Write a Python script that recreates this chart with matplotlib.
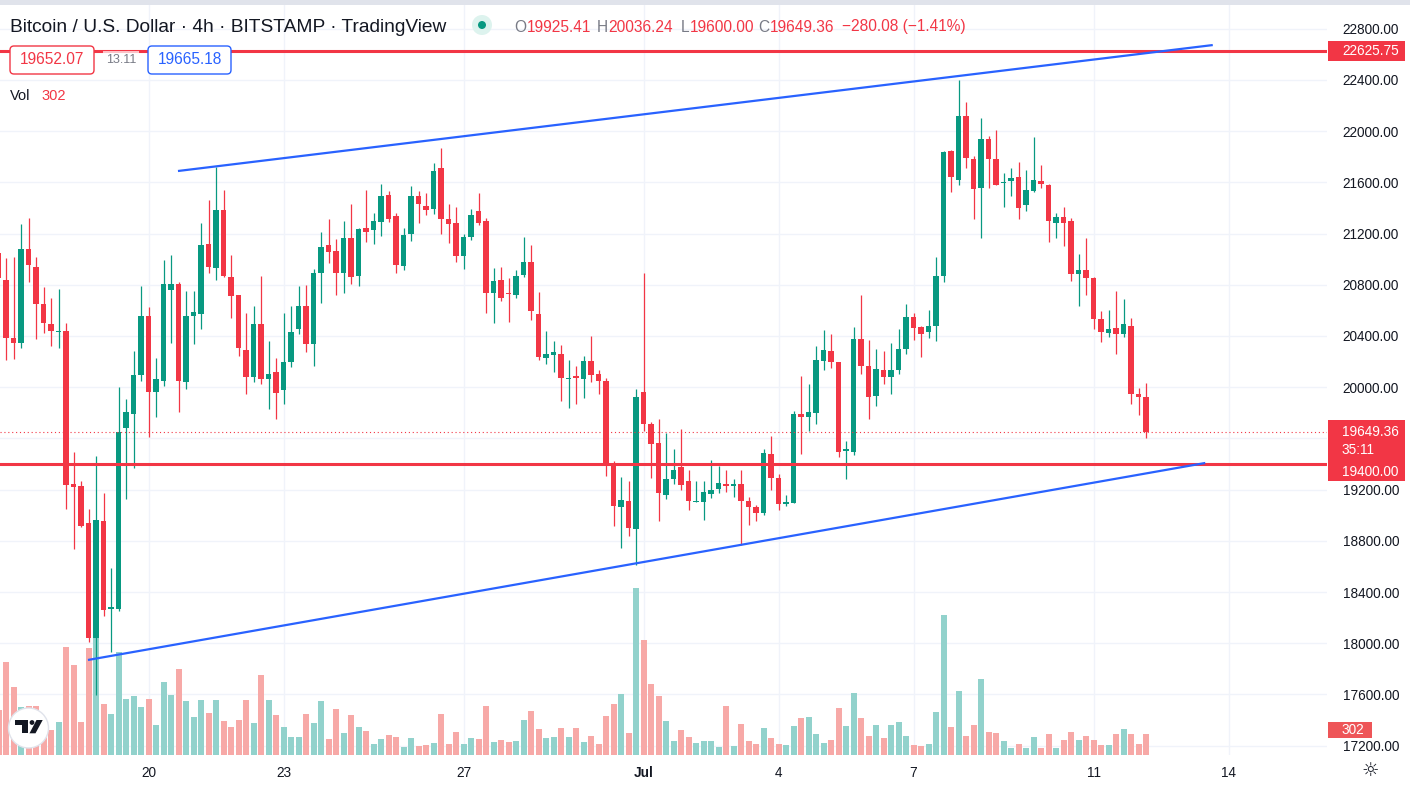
import matplotlib
matplotlib.use('Agg')
import matplotlib.pyplot as plt
import matplotlib.dates as mdates
import matplotlib.transforms as mtransforms
from matplotlib.patches import Rectangle, Circle, FancyBboxPatch, Polygon
import numpy as np
import pandas as pd

plt.rcParams['font.family'] = ['Liberation Sans', 'DejaVu Sans']

# ---------------- data (4h candles, BITSTAMP BTC/USD) ----------------
start_time = '2022-06-16 16:00'
opens = [21052, 20840, 20385, 20349, 21076, 20936, 20652, 20497, 20430, 20440,
         19240, 19230, 18937, 18037, 18952, 18270, 18264, 19682, 19788, 20097,
         20558, 19961, 20052, 20758, 20809, 20037, 20560, 20569, 21117, 20932,
         21385, 20862, 20717, 20292, 20080, 20492, 20062, 20117, 19975, 20194,
         20455, 20631, 20338, 20892, 21108, 21062, 20895, 21163, 20865, 21240,
         21231, 21292, 21500, 21338, 20947, 21197, 21491, 21416, 21391, 21713,
         21316, 21281, 21025, 21175, 21378, 21297, 20734, 20838, 20731, 20719,
         20875, 20978, 20572, 20228, 20253, 20259, 20065, 20086, 20063, 20207,
         20102, 20050, 19402, 19064, 19114, 18892, 19964, 19710, 19564, 19161,
         19279, 19375, 19266, 19104, 19104, 19166, 19205, 19240, 19232, 19247,
         19114, 19062, 19017, 19481, 19290, 19088, 19099, 19794, 19770, 19801,
         20204, 20280, 20193, 19499, 19492, 20374, 20166, 19933, 20131, 20082,
         20131, 20298, 20548, 20471, 20430, 20482, 20871, 21844, 21618, 22115,
         21785, 21556, 21941, 21785, 21594, 21608, 21643, 21427, 21531, 21608,
         21583, 21281, 21333, 21295, 20888, 20913, 20854, 20530, 20426, 20461,
         20419, 20478, 19943, 19925.41]
highs = [21180, 21006, 21015, 21273, 21324, 21015, 20785, 20700, 20764, 20500,
         19497, 19264, 19052, 19461, 19173, 18588, 20000, 19906, 20285, 20788,
         20627, 20227, 20991, 21036, 20818, 20749, 20748, 21286, 21462, 21717,
         21542, 21031, 20720, 20578, 20634, 20865, 20363, 20231, 20578, 20634,
         20794, 20800, 20923, 21209, 21317, 21157, 21302, 21431, 21240, 21538,
         21363, 21588, 21534, 21359, 21244, 21572, 21531, 21519, 21753, 21869,
         21428, 21406, 21200, 21391, 21519, 21322, 20931, 20941, 20853, 20916,
         21175, 21112, 20744, 20437, 20362, 20328, 20212, 20167, 20246, 20403,
         20136, 20071, 19422, 19297, 19266, 19984, 20894, 19728, 19749, 19645,
         19514, 19671, 19357, 19271, 19266, 19433, 19383, 19357, 19279, 19357,
         19140, 19083, 19519, 19620, 19325, 19158, 19811, 20089, 20027, 20322,
         20444, 20419, 20200, 19578, 20471, 20722, 20367, 20298, 20280, 20343,
         20454, 20652, 20576, 20478, 20600, 21020, 21844, 21851, 22400, 22226,
         21809, 22105, 21959, 22011, 21670, 21715, 21757, 21698, 21958, 21733,
         21590, 21364, 21410, 21323, 21038, 21166, 20861, 20593, 20603, 20749,
         20687, 20541, 19992, 20036.24]
lows = [20700, 20209, 20224, 20303, 20824, 20379, 20421, 20324, 20303, 19052,
        18734, 18905, 18012, 17597, 18209, 17930, 18255, 19127, 19370, 20052,
        19612, 19764, 20006, 20349, 19809, 19985, 20338, 20455, 20892, 20840,
        20862, 20538, 20246, 19948, 20040, 20025, 19831, 19748, 19871, 20154,
        20415, 20277, 20169, 20655, 20969, 20717, 20738, 20809, 20788, 21138,
        21117, 21178, 21291, 20891, 20916, 21144, 21284, 21344, 21353, 21197,
        21128, 20978, 20922, 21150, 21266, 20581, 20500, 20672, 20509, 20697,
        20859, 20522, 20212, 20181, 20119, 19891, 19837, 19872, 19914, 20037,
        19945, 19310, 18918, 18743, 18840, 18612, 19658, 19292, 18957, 19127,
        19245, 19200, 19043, 19100, 18965, 19135, 19174, 19182, 19143, 18764,
        18926, 18952, 19000, 19193, 19040, 19071, 19092, 19481, 19655, 19714,
        20134, 20152, 19457, 19283, 19471, 20107, 19752, 19856, 20027, 19943,
        20107, 20263, 20367, 20239, 20385, 20360, 20819, 21524, 21583, 21715,
        21312, 21166, 21556, 21576, 21410, 21490, 21316, 21375, 21524, 21556,
        21132, 21166, 21104, 20829, 20635, 20722, 20454, 20350, 20395, 20256,
        20395, 19870, 19783, 19600.00]
closes = [20855, 20385, 20349, 21082, 20955, 20649, 20500, 20436, 20438, 19233,
          19224, 18915, 18037, 18961, 18258, 18280, 19649, 19809, 20097, 20558,
          19961, 20061, 20809, 20809, 20052, 20558, 20590, 21108, 20938, 21385,
          20865, 20711, 20308, 20080, 20492, 20062, 20105, 19957, 20200, 20434,
          20631, 20338, 20895, 21092, 21055, 20892, 21163, 20862, 21234, 21215,
          21295, 21492, 21316, 20953, 21191, 21491, 21431, 21384, 21688, 21316,
          21275, 21025, 21175, 21347, 21284, 20734, 20831, 20697, 20725, 20869,
          20978, 20597, 20234, 20259, 20275, 20072, 20071, 20068, 20207, 20094,
          20045, 19409, 19075, 19122, 18900, 19924, 19715, 19558, 19174, 19279,
          19357, 19234, 19109, 19109, 19180, 19200, 19253, 19232, 19240, 19114,
          19062, 19017, 19483, 19290, 19088, 19106, 19794, 19770, 19804, 20211,
          20291, 20193, 19492, 19516, 20374, 20166, 19926, 20141, 20082, 20134,
          20298, 20548, 20464, 20419, 20482, 20871, 21834, 21642, 22115, 21792,
          21549, 21941, 21785, 21583, 21601, 21636, 21403, 21538, 21615, 21590,
          21295, 21333, 21281, 20888, 20916, 20854, 20530, 20430, 20454, 20412,
          20496, 19950, 19926, 19649.36]
volumes = [648, 1339, 979, 691, 706, 706, 360, 360, 475, 1555,
           1296, 475, 1541, 1685, 734, 590, 1483, 806, 850, 691,
           806, 432, 1051, 864, 1238, 778, 547, 792, 605, 792,
           490, 403, 504, 792, 461, 1152, 792, 576, 403, 259,
           259, 590, 461, 778, 230, 662, 317, 576, 403, 346,
           158, 230, 288, 259, 115, 245, 130, 144, 173, 590,
           158, 331, 158, 245, 230, 706, 187, 216, 187, 202,
           504, 634, 374, 245, 259, 389, 259, 389, 187, 274,
           158, 562, 734, 878, 317, 2405, 1656, 1022, 850, 490,
           202, 360, 259, 173, 202, 202, 115, 706, 130, 446,
           202, 158, 389, 245, 158, 144, 418, 533, 547, 302,
           173, 216, 677, 418, 893, 533, 274, 432, 245, 432,
           475, 274, 144, 130, 158, 619, 2016, 403, 922, 274,
           432, 1094, 331, 317, 202, 101, 158, 101, 259, 101,
           302, 101, 216, 331, 216, 274, 216, 144, 144, 302,
           374, 302, 158, 302]

level_prices = [22625.75, 19400.00]
last_price = 19649.36
countdown = '35:11'
bid_price, spread, ask_price = '19652.07', '13.11', '19665.18'
change_text = '\u2212280.08 (\u22121.41%)'
upper_trend_times = ['2022-06-20 15:43', '2022-07-13 15:36']
upper_trend_prices = [21689, 22673]
lower_trend_times = ['2022-06-18 15:43', '2022-07-13 11:36']
lower_trend_prices = [17869, 19408]

tick_dates = ['2022-06-20', '2022-06-23', '2022-06-27', '2022-07-01',
              '2022-07-04', '2022-07-07', '2022-07-11', '2022-07-14']
tick_labels = ['20', '23', '27', 'Jul', '4', '7', '11', '14']
price_ticks = np.arange(17200, 22801, 400)
hidden_price_labels = [19600]   # covered by the last-price label in the reference

# ---------------- style ----------------
UP = '#089981'
DOWN = '#F23645'
UP_VOL = '#92D2CC'
DOWN_VOL = '#F7A9A7'
BLUE = '#2962FF'
TXT = '#131722'
GRAY = '#787B86'
W, H = 1410, 786
PLOT_R = 1327

fig = plt.figure(figsize=(W / 100, H / 100), dpi=100)
fig.patch.set_facecolor('white')
ax = fig.add_axes([0, 31 / H, PLOT_R / W, 750 / H])
ax.set_facecolor('white')

times = pd.date_range(start_time, periods=len(opens), freq='4h')
x = mdates.date2num(times)
o = np.array(opens, float)
h = np.array(highs, float)
l = np.array(lows, float)
c = np.array(closes, float)
v = np.array(volumes, float)
up = c >= o
cols = np.where(up, UP, DOWN)
vcols = np.where(up, UP_VOL, DOWN_VOL)
step = 4 / 24

# volume (overlay in bottom of pane)
VOL_FULL = 10785.0  # volume units spanning full pane height
vol_trans = mtransforms.blended_transform_factory(ax.transData, ax.transAxes)
ax.bar(x, v / VOL_FULL, width=step * 0.8, bottom=0, color=vcols,
       transform=vol_trans, zorder=1, linewidth=0)

# candles
ax.vlines(x, l, h, colors=cols, linewidth=0.9, zorder=3)
ax.bar(x, np.maximum(np.abs(c - o), 9), bottom=np.minimum(o, c),
       width=step * 0.68, color=cols, zorder=4, linewidth=0)

# lines
for p in level_prices:
    ax.axhline(p, color=DOWN, lw=2.2, zorder=6)
ax.axhline(last_price, color=DOWN, lw=0.8, ls=(0, (1, 2.5)), zorder=5)
ax.plot(mdates.date2num(pd.to_datetime(upper_trend_times)), upper_trend_prices,
        color=BLUE, lw=1.6, zorder=7, solid_capstyle='butt')
ax.plot(mdates.date2num(pd.to_datetime(lower_trend_times)), lower_trend_prices,
        color=BLUE, lw=1.6, zorder=7, solid_capstyle='butt')

# limits
x0 = mdates.date2num(pd.Timestamp('2022-06-20'))
ax.set_xlim(x0 - 19.8 * step, x0 + 157.13 * step)
ax.set_ylim(17126.6, 22985.9)

# grid and ticks
ax.set_axisbelow(True)
ax.grid(True, color='#F0F3FA', lw=1.0, zorder=0)
ax.set_xticks(mdates.date2num(pd.to_datetime(tick_dates)))
ax.set_xticklabels(tick_labels)
for t in ax.get_xticklabels():
    if t.get_text() == 'Jul':
        t.set_fontweight('bold')
ax.set_yticks(price_ticks)
ax.set_yticklabels(['' if p in hidden_price_labels else f'{p:.2f}' for p in price_ticks])
ax.yaxis.tick_right()
ax.tick_params(axis='y', length=0, pad=11.3, labelsize=9.8, labelcolor=TXT)
ax.tick_params(axis='x', length=0, pad=8, labelsize=9.8, labelcolor=TXT)
for s in ax.spines.values():
    s.set_visible(False)

# ---------------- right-axis price labels ----------------
ID = mtransforms.IdentityTransform()
TXT_X = 1342  # label text left edge, px
BOX_X0, BOX_X1 = 1328, 1405

def ypix(price):
    return ax.transData.transform((x0, price))[1]

def box(y_lo, y_hi, x0_, x1_, fc):
    fig.add_artist(Rectangle((x0_, y_lo), x1_ - x0_, y_hi - y_lo, transform=ID,
                             fc=fc, ec='none', zorder=20))

def label(txt, ypos, color='white', fs=9.8):
    fig.text(TXT_X / W, ypos / H, txt, fontsize=fs, color=color,
             va='center', ha='left', zorder=21)

y_top = ypix(level_prices[0])
box(y_top - 10, y_top + 10, BOX_X0, BOX_X1, DOWN)
label('22625.75', y_top)

y_last = ypix(last_price)
y_lvl = ypix(level_prices[1])
box(y_lvl - 17, y_last + 12, BOX_X0, BOX_X1, DOWN)
label(f'{last_price:.2f}', y_last)
label(countdown, y_last - 18)
label(f'{level_prices[1]:.2f}', y_lvl - 8)

y_vol = ax.transAxes.transform((0, volumes[-1] / VOL_FULL))[1] + 4
box(y_vol - 8, y_vol + 8, BOX_X0, 1372, '#EE5558')
label(f'{volumes[-1]:d}', y_vol)

# ---------------- header ----------------
def fy(y):
    return 1 - y / H

fig.add_artist(Rectangle((0, H - 5), W, 5, transform=ID, fc='#E0E3EB', ec='none'))

fig.text(10 / W, fy(27), 'Bitcoin / U.S. Dollar · 4h · BITSTAMP · TradingView',
         fontsize=13.8, color=TXT, va='center', ha='left')
fig.add_artist(Circle((482, H - 25), 10, transform=ID, fc='#DDF3EE', ec='none'))
fig.add_artist(Circle((482, H - 25), 4, transform=ID, fc=UP, ec='none'))

renderer = fig.canvas.get_renderer()
ohlc_groups = [(514, 'O', f'{opens[-1]:.2f}'), (597, 'H', f'{highs[-1]:.2f}'),
               (681, 'L', f'{lows[-1]:.2f}'), (758, 'C', f'{closes[-1]:.2f}')]
for xp, letter, val in ohlc_groups:
    t = fig.text(xp / W, fy(27), letter, fontsize=11.2, color=GRAY, va='center', ha='left')
    bb = t.get_window_extent(renderer)
    fig.text((bb.x1 + 0.5) / W, fy(27), val, fontsize=11.2, color=DOWN,
             va='center', ha='left')
fig.text(842 / W, fy(27), change_text, fontsize=11.2, color=DOWN, va='center', ha='left')

# second row: bid / spread / ask
fig.add_artist(FancyBboxPatch((10, H - 74), 84, 28, boxstyle='round,pad=0,rounding_size=4',
                              transform=ID, fc='white', ec=DOWN, lw=1))
fig.text(52 / W, fy(60), bid_price, fontsize=11.2, color=DOWN, va='center', ha='center')
fig.text(121 / W, fy(60), spread, fontsize=9, color=GRAY, va='center', ha='center',
         bbox=dict(boxstyle='square,pad=0.25', fc='white', ec='none', alpha=0.7))
fig.add_artist(FancyBboxPatch((148, H - 74), 83, 28, boxstyle='round,pad=0,rounding_size=4',
                              transform=ID, fc='white', ec=BLUE, lw=1))
fig.text(190 / W, fy(60), ask_price, fontsize=11.2, color=BLUE, va='center', ha='center')

fig.text(10 / W, fy(96), 'Vol', fontsize=10.5, color=TXT, va='center', ha='left')
fig.text(41.5 / W, fy(96), f'{volumes[-1]:d}', fontsize=10.5, color=DOWN, va='center', ha='left')

# TradingView logo
fig.add_artist(Circle((28.5, H - 728), 20, transform=ID, fc='white', ec='#E0E3EB', lw=1))
def P(xp, yp):
    return (xp, H - yp)
fig.add_artist(Polygon([P(15, 720), P(28.3, 720), P(28.3, 733.3), P(21.7, 733.3),
                        P(21.7, 725), P(15, 725)], closed=True, transform=ID,
                       fc=TXT, ec='none'))
fig.add_artist(Circle(P(32, 722.5), 2.4, transform=ID, fc=TXT, ec='none'))
fig.add_artist(Polygon([P(36.5, 720), P(42.7, 720), P(35.5, 733.3), P(29.5, 733.3)],
                       closed=True, transform=ID, fc=TXT, ec='none'))

# settings icon
fig.text(1370 / W, fy(770), '\u263C', fontsize=14, color=TXT, va='center', ha='center',
         family=['DejaVu Sans'])

fig.savefig('out.png', dpi=100, facecolor='white')
